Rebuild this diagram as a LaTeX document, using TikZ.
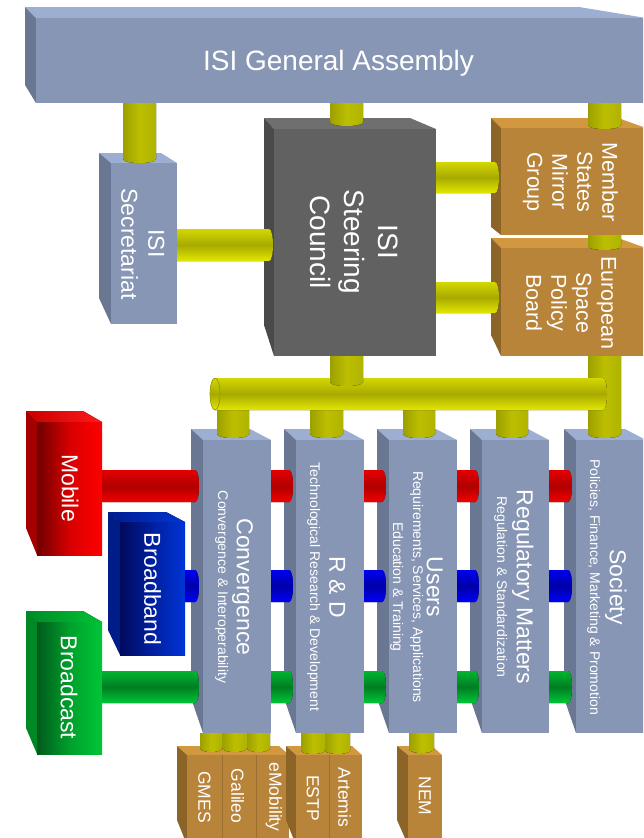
\documentclass[tikz,border=0pt]{standalone}
\usepackage{fontspec}
\setmainfont{Liberation Sans}
\definecolor{bgF}{HTML}{8796B4}
\definecolor{bgT}{HTML}{9DAED3}
\definecolor{bgL}{HTML}{6A7792}
\definecolor{grF}{HTML}{616161}
\definecolor{grT}{HTML}{6F6F6F}
\definecolor{grL}{HTML}{4A4A4A}
\definecolor{orF}{HTML}{B8843A}
\definecolor{orT}{HTML}{D2983F}
\definecolor{orL}{HTML}{8D6428}
\definecolor{orD}{HTML}{9C7030}
\definecolor{rdA}{HTML}{700000}
\definecolor{rdM}{HTML}{D80000}
\definecolor{rdB}{HTML}{FF0000}
\definecolor{rdT1}{HTML}{C80000}
\definecolor{rdT2}{HTML}{FF1A1A}
\definecolor{rdL}{HTML}{A40000}
\definecolor{buA}{HTML}{000A5E}
\definecolor{buM}{HTML}{0020A0}
\definecolor{buB}{HTML}{0034D6}
\definecolor{buT1}{HTML}{001C90}
\definecolor{buT2}{HTML}{0036D0}
\definecolor{buL}{HTML}{001C86}
\definecolor{gnA}{HTML}{005A1C}
\definecolor{gnM}{HTML}{00A02C}
\definecolor{gnB}{HTML}{00C636}
\definecolor{gnT1}{HTML}{008A26}
\definecolor{gnT2}{HTML}{00C232}
\definecolor{gnL}{HTML}{008826}
\definecolor{yH1}{HTML}{D3D700}
\definecolor{yH2}{HTML}{A7AA00}
\definecolor{yH3}{HTML}{E3E700}
\definecolor{yV1}{HTML}{9C9F00}
\definecolor{yV2}{HTML}{BCBF00}
\definecolor{yV3}{HTML}{B0B300}
\definecolor{rH1}{HTML}{E40000}
\definecolor{rH2}{HTML}{B00000}
\definecolor{rH3}{HTML}{F20000}
\definecolor{bH1}{HTML}{0000F0}
\definecolor{bH2}{HTML}{0000A8}
\definecolor{bH3}{HTML}{0000F8}
\definecolor{gH1}{HTML}{00B530}
\definecolor{gH2}{HTML}{007E22}
\definecolor{gH3}{HTML}{00C637}
\tikzset{
  bg front/.style={fill=bgF}, bg top/.style={fill=bgT}, bg left/.style={fill=bgL},
  gr front/.style={fill=grF}, gr top/.style={fill=grT}, gr left/.style={fill=grL},
  or front/.style={fill=orF}, or top/.style={fill=orT}, or left/.style={fill=orL},
  rd front/.style={left color=rdA, right color=rdB, middle color=rdM},
  rd top/.style={left color=rdT1, right color=rdT2}, rd left/.style={fill=rdL},
  bu front/.style={left color=buA, right color=buB, middle color=buM},
  bu top/.style={left color=buT1, right color=buT2}, bu left/.style={fill=buL},
  gn front/.style={left color=gnA, right color=gnB, middle color=gnM},
  gn top/.style={left color=gnT1, right color=gnT2}, gn left/.style={fill=gnL},
  yh/.style={top color=yH1, bottom color=yH3, middle color=yH2},
  yv/.style={left color=yV1, right color=yV3, middle color=yV2},
  rh/.style={top color=rH1, bottom color=rH3, middle color=rH2},
  bh/.style={top color=bH1, bottom color=bH3, middle color=bH2},
  gh/.style={top color=gH1, bottom color=gH3, middle color=gH2},
  lab/.style={text=white, inner sep=0pt, outer sep=0pt},
  rot/.style={rotate=-90},
  fA/.style={font=\fontsize{28}{33}\selectfont, text height=20pt, text depth=0pt},
  fB/.style={font=\fontsize{23}{27}\selectfont, text height=16.5pt, text depth=0pt},
  fC/.style={font=\fontsize{21.5}{25}\selectfont, text height=15.4pt, text depth=0pt},
  fD/.style={font=\fontsize{17.5}{21}\selectfont, text height=12.5pt, text depth=0pt},
  fE/.style={font=\fontsize{14}{17}\selectfont, text height=10pt, text depth=0pt},
}
\newcommand\cdy{10}
% name, x1, y1, x2, y2, dxL, dxR, back-bottom y, scheme
\newcommand\cubebox[9]{%
  \fill[#9 top] (#2,#3) -- ({#2-#6},{#3-\cdy}) -- ({#4-#7},{#3-\cdy}) -- (#4,#3) -- cycle;
  \fill[#9 left] (#2,#3) -- ({#2-#6},{#3-\cdy}) -- ({#2-#6},#8) -- (#2,#5) -- cycle;
  \node[#9 front, shape=rectangle, inner sep=0pt, outer sep=0pt, anchor=north west,
        minimum width={(#4-#2)*1pt}, minimum height={(#5-#3)*1pt}] (#1) at (#2,#3) {};%
}
\newcommand\vcyl[4]{\fill[yv] (#1,#3) -- (#1,{#4-4}) .. controls (#1,{#4+1.33}) and (#2,{#4+1.33}) .. (#2,{#4-4}) -- (#2,#3) -- cycle;}
\newcommand\hcyl[5]{\fill[#5] (#1,#3) -- ({#2-4},#3) .. controls ({#2+1.33},#3) and ({#2+1.33},#4) .. ({#2-4},#4) -- (#1,#4) -- cycle;}
\begin{document}
\begin{tikzpicture}[x=1pt,y=-1pt]
\useasboundingbox (0,0) rectangle (643,838);
\clip (0,0) rectangle (643,838);
% ---------- top row ----------
\renewcommand\cdy{11}
\cubebox{ga}{36}{18}{646}{103}{11}{67}{85}{bg}
\renewcommand\cdy{10}
\cubebox{sec}{111}{163}{177}{324}{12}{16}{298}{bg}
\renewcommand\cdy{11}
\cubebox{sc}{274}{129}{436}{356}{10}{26}{325}{gr}
\renewcommand\cdy{10}
\cubebox{ms}{501}{128}{646}{235}{10}{28}{227}{or}
\cubebox{epb}{501}{248}{646}{356}{10}{28}{335}{or}
\vcyl{123}{156}{103}{163}
\vcyl{330}{363}{103}{126}
\vcyl{588}{621}{103}{129}
\vcyl{588}{621}{235}{250}
\hcyl{177}{273}{229}{261}{yh}
\hcyl{436}{499}{162}{193}{yh}
\hcyl{436}{499}{282}{313}{yh}
% ---------- bottom boxes ----------
\renewcommand\cdy{9}
\cubebox{emob}{256}{755}{289}{845}{10}{10}{820}{or}
\cubebox{gal}{222}{755}{256}{845}{10}{10}{820}{or}
\cubebox{gmes}{187}{755}{222}{845}{10}{10}{820}{or}
\cubebox{art}{329}{755}{362}{845}{10}{10}{820}{or}
\cubebox{estp}{296}{755}{329}{845}{10}{10}{820}{or}
\cubebox{nem}{408}{755}{442}{845}{11}{10}{820}{or}
\draw[orD, line width=0.6pt] (gmes.north east) -- (gmes.south east) (gal.north east) -- (gal.south east) (estp.north east) -- (estp.south east);
% ---------- columns ----------
\renewcommand\cdy{11}
\cubebox{c1}{203}{440}{271}{733}{12}{21}{698}{bg}
\cubebox{c2}{296}{440}{364}{733}{12}{21}{698}{bg}
\cubebox{c3}{389}{440}{457}{733}{12}{21}{698}{bg}
\cubebox{c4}{482}{440}{549}{733}{12}{21}{698}{bg}
\cubebox{c5}{576}{440}{646}{733}{12}{21}{698}{bg}
\vcyl{217}{249}{400}{438}
\vcyl{310}{343}{400}{438}
\vcyl{403}{435}{400}{438}
\vcyl{496}{528}{400}{438}
\vcyl{588}{621}{356}{438}
\hcyl{215}{607}{378}{410}{yh}
\filldraw[yh, draw=yV1, line width=0.6pt] (215,394) ellipse [x radius=5, y radius=16];
\vcyl{330}{363}{356}{386}
\vcyl{200}{222}{733}{752}
\vcyl{222}{247}{733}{752}
\vcyl{247}{270}{733}{752}
\vcyl{301}{325}{733}{754}
\vcyl{325}{350}{733}{754}
\vcyl{409}{434}{733}{753}
% ---------- side boxes ----------
\renewcommand\cdy{11}
\cubebox{mob}{37}{422}{102}{555}{11}{19}{528}{rd}
\renewcommand\cdy{10}
\cubebox{bb}{120}{522}{185}{655}{12}{19}{630}{bu}
\renewcommand\cdy{11}
\cubebox{bc}{37}{622}{102}{754}{11}{19}{728}{gn}
\hcyl{102}{199}{470}{502}{rh}
\hcyl{271}{293}{470}{502}{rh}
\hcyl{364}{386}{470}{502}{rh}
\hcyl{457}{479}{470}{502}{rh}
\hcyl{549}{572}{470}{502}{rh}
\hcyl{185}{199}{570}{602}{bh}
\hcyl{271}{293}{570}{602}{bh}
\hcyl{364}{386}{570}{602}{bh}
\hcyl{457}{479}{570}{602}{bh}
\hcyl{549}{572}{570}{602}{bh}
\hcyl{102}{199}{671}{703}{gh}
\hcyl{271}{293}{671}{703}{gh}
\hcyl{364}{386}{671}{703}{gh}
\hcyl{457}{479}{671}{703}{gh}
\hcyl{549}{572}{671}{703}{gh}
% ---------- texts ----------
\node[lab, fA] (ga-t) at (338.5,60.5) {ISI General Assembly};
\node[lab, rot, fB] (sec-t1) at (156.5,243.5) {ISI};
\node[lab, rot, fB] (sec-t2) at (129.5,244) {Secretariat};
\node[lab, rot, fA] (sc-t1) at (388,242) {ISI};
\node[lab, rot, fA] (sc-t2) at (354,242) {Steering};
\node[lab, rot, fA] (sc-t3) at (320,242) {Council};
\node[lab, rot, fC] (ms-t1) at (610,182) {Member};
\node[lab, rot, fC] (ms-t2) at (585,182) {States};
\node[lab, rot, fC] (ms-t3) at (560,182) {Mirror};
\node[lab, rot, fC] (ms-t4) at (535,182) {Group};
\node[lab, rot, fC] (epb-t1) at (609,303) {European};
\node[lab, rot, fC] (epb-t2) at (584,303) {Space};
\node[lab, rot, fC] (epb-t3) at (559,303) {Policy};
\node[lab, rot, fC] (epb-t4) at (534,303) {Board};
\node[lab, rot, fB] (c1-t) at (245,587) {Convergence};
\node[lab, rot, fE] (c1-s) at (223,587) {Convergence \& Interoperability};
\node[lab, rot, fB] (c2-t) at (337.5,587) {R \& D};
\node[lab, rot, fE] (c2-s) at (315,587) {Technological Research \& Development};
\node[lab, rot, fB] (c3-t) at (435,587) {Users};
\node[lab, rot, fE] (c3-s1) at (418,587) {Requirements, Services, Applications};
\node[lab, rot, fE] (c3-s2) at (398,587) {Education \& Training};
\node[lab, rot, fB] (c4-t) at (525,587) {Regulatory Matters};
\node[lab, rot, fE] (c4-s) at (502,587) {Regulation \& Standardization};
\node[lab, rot, fB] (c5-t) at (618,587) {Society};
\node[lab, rot, fE] (c5-s) at (595,587) {Policies, Finance, Marketing \& Promotion};
\node[lab, rot, fB] (mob-t) at (70,488) {Mobile};
\node[lab, rot, fB] (bb-t) at (152.5,589) {Broadband};
\node[lab, rot, fB] (bc-t) at (69,687.5) {Broadcast};
\node[lab, rot, fD] (gmes-t) at (204.5,797) {GMES};
\node[lab, rot, fD] (gal-t) at (237.5,796) {Galileo};
\node[lab, rot, fD] (emob-t) at (275.5,797) {eMobility};
\node[lab, rot, fD] (estp-t) at (313,798) {ESTP};
\node[lab, rot, fD] (art-t) at (344.5,797.5) {Artemis};
\node[lab, rot, fD] (nem-t) at (425,796) {NEM};
\end{tikzpicture}
\end{document}
